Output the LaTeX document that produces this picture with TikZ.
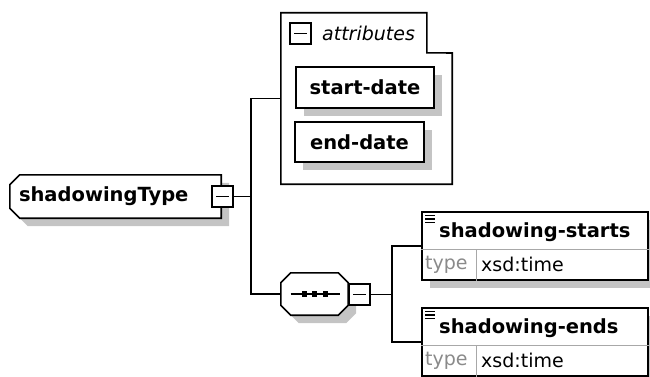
\documentclass[tikz,border=0pt]{standalone}
\usepackage{fontspec}
\setmainfont{DejaVu Sans}
\usetikzlibrary{shadows,positioning,backgrounds}
\definecolor{shade}{HTML}{C4C4C4}
\definecolor{muted}{HTML}{8A8A8A}
\definecolor{rule}{HTML}{A8A8A8}
\tikzset{
  shadowed/.style={
    drop shadow={shadow xshift=8pt, shadow yshift=-8pt, fill=shade, opacity=1}
  },
  boxline/.style={draw=black, line width=1.6pt, fill=white},
  wire/.style={draw=black, line width=1.6pt},
  bold/.style={font=\fontsize{19.5}{22}\selectfont\bfseries},
  plain/.style={font=\fontsize{19}{22}\selectfont},
  minusbox/.style={
    boxline, minimum size=21pt, inner sep=0pt,
    path picture={
      \draw[line width=1.6pt] ([xshift=4pt]path picture bounding box.west)
        -- ([xshift=-4pt]path picture bounding box.east);
    }
  },
  attrbox/.style={boxline, shadowed, bold, inner sep=0pt},
  elembox/.style={boxline, shadowed, inner sep=0pt, minimum width=226pt, minimum height=68pt}
}
\begin{document}
\begin{tikzpicture}[x=1pt,y=-1pt,
    complexbox/.style={bold, inner sep=0pt, minimum width=211pt, minimum height=43pt,
      text width=193pt, align=left},
    seqbox/.style={inner sep=0pt, minimum width=67pt, minimum height=42pt}
  ]
  \useasboundingbox (0,0) rectangle (650,377);
  % complex type
  \node[complexbox] (ctype) at (115.5,196.5) {shadowingType};
  \node[minusbox] (ctypeminus) at (222.5,196.5) {};
  % attributes group
  \node[minimum width=171pt, minimum height=171pt, inner sep=0pt] (attr) at (366.5,98.5) {};
  \draw[wire] (attr.north west) -- ++(146,0) -- ++(0,40) -- (attr.east |- 0,53)
    -- (attr.south east) -- (attr.south west) -- cycle;
  \node[minusbox] (attrminus) at (300.5,33.5) {};
  \node[font=\fontsize{19}{22}\selectfont\itshape, anchor=west, inner sep=0pt] (attrlabel) at (322,33) {attributes};
  \node[attrbox, minimum width=138pt, minimum height=41pt] (startdate) at (365,87.5) {start-date};
  \node[attrbox, minimum width=129pt, minimum height=40pt] (enddate) at (359.5,142) {end-date};
  % sequence
  \node[seqbox] (seq) at (314.5,294) {};
  \node[minusbox] (seqminus) at (359.5,294.5) {};
  % outlines of the chamfered boxes
  \begin{scope}[on background layer]
    \draw[boxline, shadowed] ([xshift=10pt]ctype.north west) -- (ctype.north east)
      -- (ctype.south east) -- ([xshift=10pt]ctype.south west)
      -- ([yshift=10pt]ctype.south west) -- ([yshift=-10pt]ctype.north west) -- cycle;
    \draw[boxline, shadowed] ([xshift=10pt]seq.north west) -- ([xshift=-10pt]seq.north east)
      -- ([yshift=-10pt]seq.north east) -- ([yshift=10pt]seq.south east)
      -- ([xshift=-10pt]seq.south east) -- ([xshift=10pt]seq.south west)
      -- ([yshift=10pt]seq.south west) -- ([yshift=-10pt]seq.north west) -- cycle;
  \end{scope}
  \draw[wire] ([xshift=-24pt]seq.center) -- ([xshift=25pt]seq.center);
  \foreach \dx in {-10,0,11}
    \fill ([xshift=\dx pt]seq.center) ++(-2.8,-2.8) rectangle ++(5.6,5.6);
  % elements
  \node[elembox] (starts) at (535,246) {};
  \node[elembox] (ends) at (535,342) {};
  \draw[rule, line width=1pt] ([yshift=-3pt]starts.west) -- ([yshift=-3pt]starts.east);
  \draw[rule, line width=1pt] (476,249) -- (starts.south -| 476,0);
  \draw[rule, line width=1pt] ([yshift=-3pt]ends.west) -- ([yshift=-3pt]ends.east);
  \draw[rule, line width=1pt] (476,345) -- (ends.south -| 476,0);
  \foreach \ey in {215.5,219,222.5} \draw[line width=1.2pt] (425,\ey) -- (435,\ey);
  \foreach \ey in {311.5,315,318.5} \draw[line width=1.2pt] (425,\ey) -- (435,\ey);
  \node[bold, anchor=west, inner sep=0pt] (startsname) at (439,232) {shadowing-starts};
  \node[plain, text=muted, anchor=west, inner sep=0pt] (startstype) at (425,264.5) {type};
  \node[plain, anchor=west, inner sep=0pt] (startsval) at (481,264.5) {xsd:time};
  \node[bold, anchor=west, inner sep=0pt] (endsname) at (439,328) {shadowing-ends};
  \node[plain, text=muted, anchor=west, inner sep=0pt] (endstype) at (425,360.5) {type};
  \node[plain, anchor=west, inner sep=0pt] (endsval) at (481,360.5) {xsd:time};
  % connectors
  \coordinate (trunk) at (251,196.5);
  \coordinate (fork) at (392,294.5);
  \draw[wire] (ctypeminus.east) -- (trunk);
  \draw[wire] (trunk) |- (attr.west);
  \draw[wire] (trunk) |- (seq.west);
  \draw[wire] (seqminus.east) -- (fork);
  \draw[wire] (fork) |- (starts.west);
  \draw[wire] (fork) |- (ends.west);
\end{tikzpicture}
\end{document}
